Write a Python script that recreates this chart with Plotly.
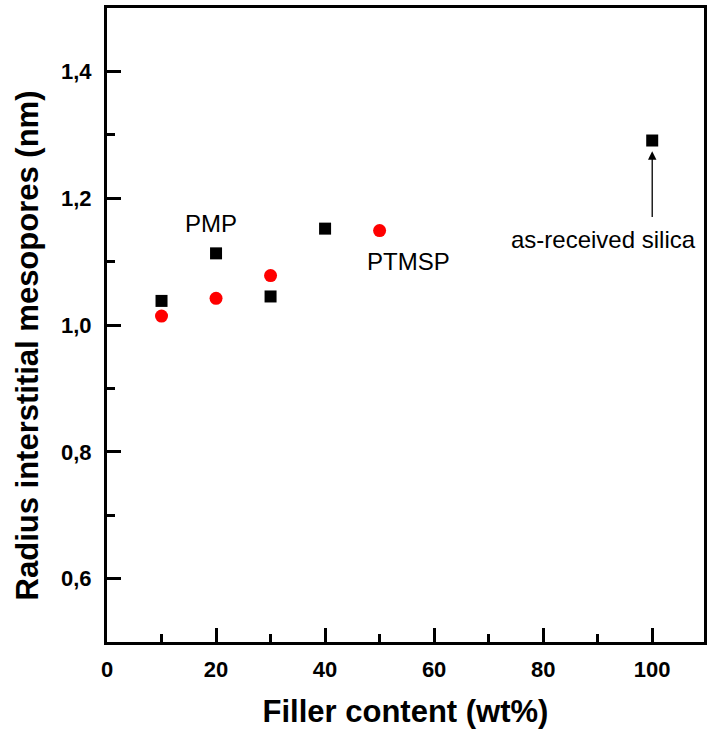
import plotly.graph_objects as go

# Filler loading (wt%) and interstitial mesopore radius (nm)
pmp_x = [10, 20, 30, 40, 100]
pmp_y = [1.038, 1.113, 1.045, 1.152, 1.291]
ptmsp_x = [10, 20, 30, 50]
ptmsp_y = [1.014, 1.042, 1.078, 1.149]

x_ticks = [0, 20, 40, 60, 80, 100]
y_ticks = [0.6, 0.8, 1.0, 1.2, 1.4]
y_tick_text = ["0,6", "0,8", "1,0", "1,2", "1,4"]

FONT = "Liberation Sans, Arial, sans-serif"
L, R, T, B = 107, 5, 8, 97
W, H = 712, 739
PW, PH = W - L - R, H - T - B

fig = go.Figure()
fig.add_trace(go.Scatter(
    x=pmp_x, y=pmp_y, mode="markers", name="PMP",
    marker=dict(symbol="square", size=12, color="black"),
))
fig.add_trace(go.Scatter(
    x=ptmsp_x, y=ptmsp_y, mode="markers", name="PTMSP",
    marker=dict(symbol="circle", size=13, color="#ff0000"),
))

# series labels
label_font = dict(family=FONT, size=24, color="black")
fig.add_annotation(x=19, y=1.16, text="PMP", showarrow=False, font=label_font)
fig.add_annotation(x=55.3, y=1.10, text="PTMSP", showarrow=False, font=label_font)
fig.add_annotation(x=91.1, y=1.135, text="as-received silica", showarrow=False,
                   font=label_font)
# arrow pointing at the silica point
fig.add_annotation(x=100, y=1.274, ax=100, ay=1.168,
                   axref="x", ayref="y", xref="x", yref="y",
                   text="", showarrow=True, arrowhead=2, arrowsize=1.3,
                   arrowwidth=1.3, arrowcolor="black")

# rotated y-axis title
fig.add_annotation(
    xref="paper", yref="paper", xanchor="center", yanchor="middle",
    x=(27 - L) / PW, y=(H - B - 345) / PH,
    text="Radius interstitial mesopores (nm)", textangle=-90, showarrow=False,
    font=dict(family=FONT, size=31, color="black", weight="bold"),
)

axis_common = dict(
    showline=True, linecolor="black", linewidth=3, mirror=True,
    ticks="inside", tickwidth=3, ticklen=14, tickcolor="black",
    showgrid=False, zeroline=False,
    minor=dict(ticks="inside", ticklen=8, tickwidth=3, tickcolor="black"),
    tickfont=dict(family=FONT, size=22, color="black", weight="bold"),
)

fig.update_xaxes(
    range=[0, 109.5], tickvals=x_ticks, ticktext=[str(v) for v in x_ticks],
    minor_dtick=10, minor_tick0=0, ticklabelstandoff=6,
    title=dict(text="Filler content (wt%)", standoff=19,
               font=dict(family=FONT, size=31, color="black", weight="bold")),
    **axis_common,
)
fig.update_yaxes(
    range=[0.5, 1.5], tickvals=y_ticks, ticktext=y_tick_text,
    minor_dtick=0.1, minor_tick0=0.5, ticklabelstandoff=8,
    **axis_common,
)

fig.update_layout(
    width=W, height=H,
    margin=dict(l=L, r=R, t=T, b=B),
    plot_bgcolor="white", paper_bgcolor="white",
    showlegend=False,
)

fig.write_html("out.html")
